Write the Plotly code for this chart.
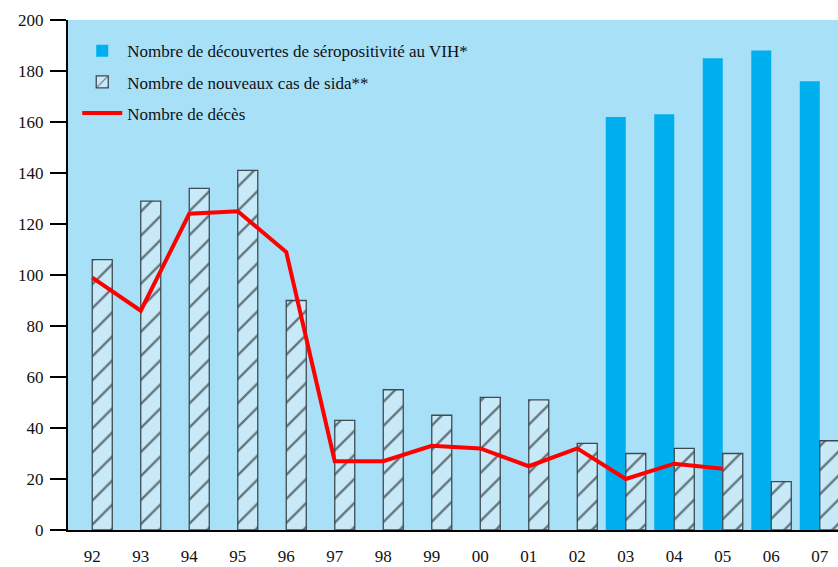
import plotly.graph_objects as go

years = ["92", "93", "94", "95", "96", "97", "98", "99", "00", "01", "02", "03", "04", "05", "06", "07"]
decouvertes_vih = [None, None, None, None, None, None, None, None, None, None, None, 162, 163, 185, 188, 176]
nouveaux_sida = [106, 129, 134, 141, 90, 43, 55, 45, 52, 51, 34, 30, 32, 30, 19, 35]
deces_years = ["92", "93", "94", "95", "96", "97", "98", "99", "00", "01", "02", "03", "04", "05"]
deces = [99, 86, 124, 125, 109, 27, 27, 33, 32, 25, 32, 20, 26, 24]
y_ticks = [0, 20, 40, 60, 80, 100, 120, 140, 160, 180, 200]

font_family = "Liberation Serif, DejaVu Serif, serif"

fig = go.Figure()
fig.add_trace(go.Bar(
    x=years, y=decouvertes_vih,
    name="Nombre de découvertes de séropositivité au VIH*",
    marker=dict(color="#00b0ee", line=dict(width=0)),
    legendgroup="a",
))
fig.add_trace(go.Bar(
    x=years, y=nouveaux_sida,
    name="Nombre de nouveaux cas de sida**",
    marker=dict(
        color="#c8eaf8",
        line=dict(color="#3e4a52", width=1.3),
        pattern=dict(shape="/", fgcolor="#000000", bgcolor="#c8eaf8", size=17, solidity=0.14),
    ),
    legendgroup="b",
))
fig.add_trace(go.Scatter(
    x=deces_years, y=deces,
    name="Nombre de décès",
    mode="lines",
    line=dict(color="#ff0000", width=4),
    legendgroup="c",
))

fig.update_layout(
    width=838, height=567,
    margin=dict(l=68, r=0, t=20, b=37, autoexpand=False),
    paper_bgcolor="white",
    plot_bgcolor="#a8e0f8",
    barmode="group",
    bargap=0.175,
    bargroupgap=0,
    font=dict(family=font_family, size=17, color="#111111"),
    showlegend=True,
    legend=dict(
        x=0.012, y=0.974, xanchor="left", yanchor="top",
        bgcolor="rgba(0,0,0,0)",
        font=dict(family=font_family, size=17, color="#111111"),
        traceorder="grouped",
        tracegroupgap=6,
        itemwidth=40,
    ),
)
fig.update_xaxes(
    type="category",
    range=[-0.5, 15.376],
    automargin=False,
    showline=True, linecolor="#000000", linewidth=1.5,
    ticks="", ticklabelstandoff=10,
    showgrid=False, zeroline=False,
    tickfont=dict(family=font_family, size=17),
)
fig.update_yaxes(
    range=[0, 200],
    automargin=False,
    tickvals=y_ticks,
    showline=True, linecolor="#000000", linewidth=2,
    ticks="outside", ticklen=16, tickwidth=1.5, tickcolor="#000000",
    ticklabelstandoff=3,
    showgrid=False, zeroline=False,
    tickfont=dict(family=font_family, size=17),
)

fig.write_html(
    "out.html",
    config={"displayModeBar": False},
    post_script="document.body.style.margin='0px';document.documentElement.style.overflow='hidden';",
)
